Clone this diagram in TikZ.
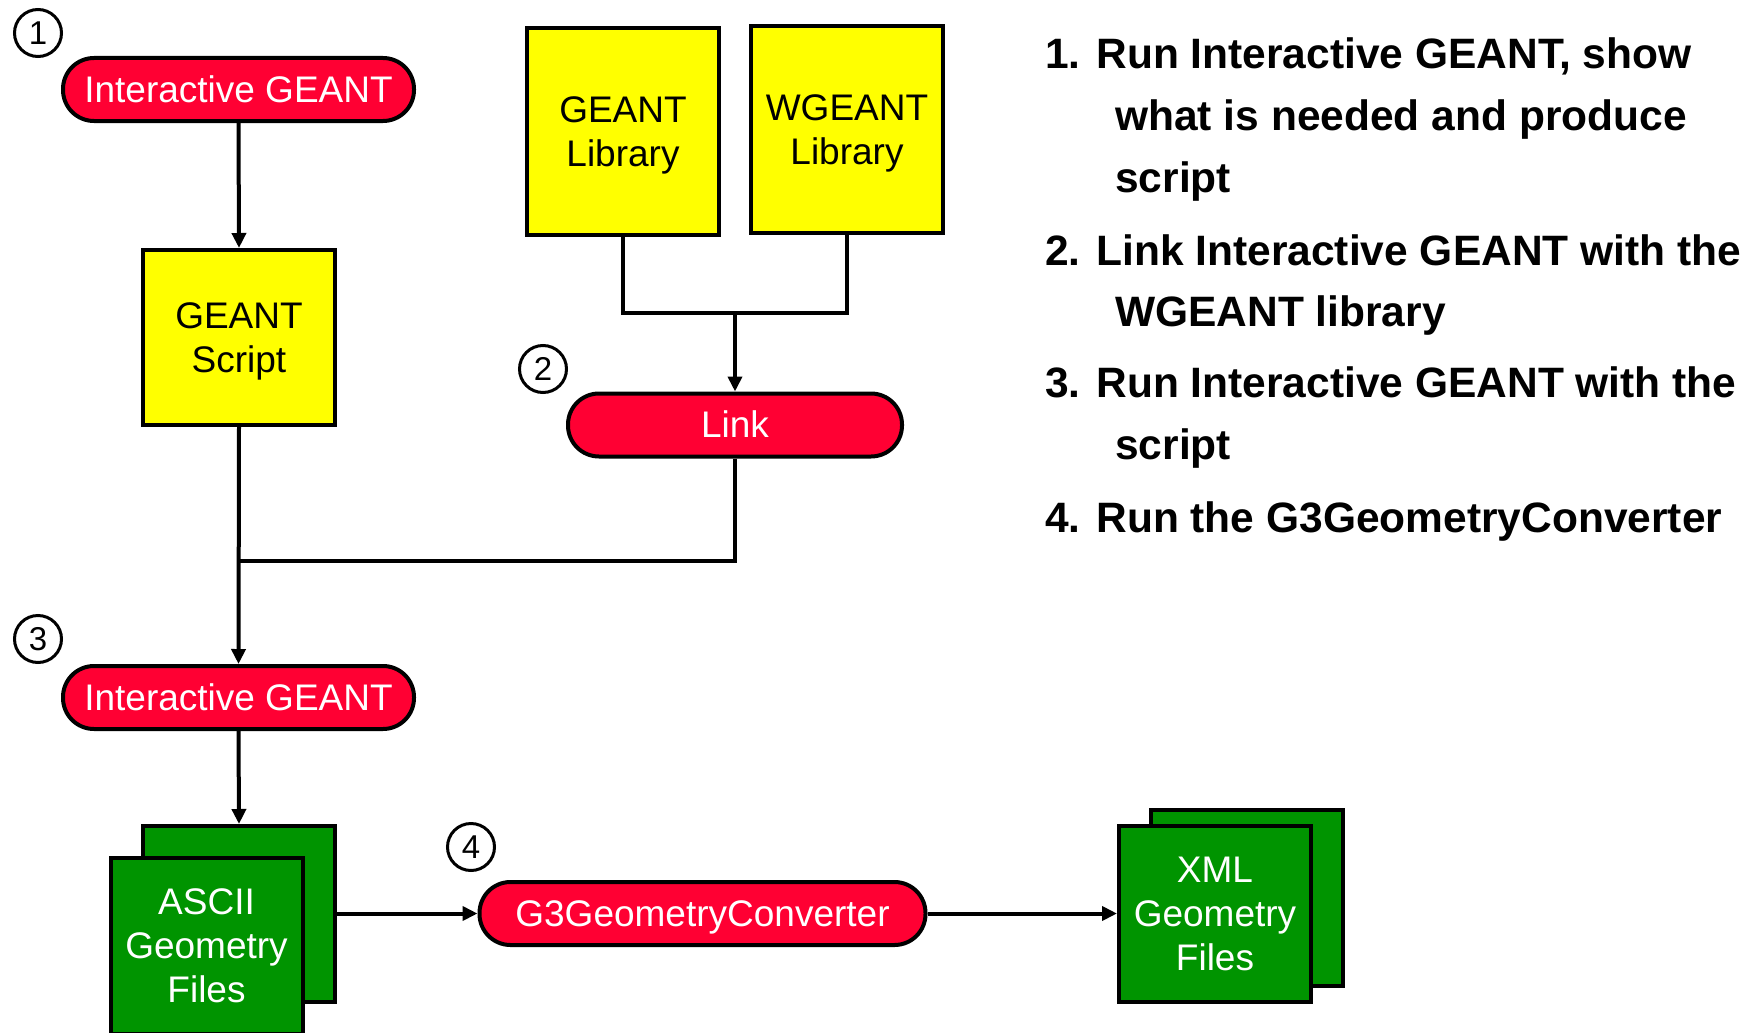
\documentclass[tikz,border=0pt]{standalone}
\usepackage{fontspec}
\setmainfont{Liberation Sans}
\usetikzlibrary{arrows.meta}
\definecolor{pillred}{RGB}{255,0,51}
\definecolor{boxyellow}{RGB}{255,255,0}
\definecolor{boxgreen}{RGB}{0,148,0}
\tikzset{
  pill/.style={draw=black, line width=4pt, fill=pillred, text=white, rounded corners=31pt,
    minimum height=63pt, inner sep=0pt, text height=25pt, text depth=0pt,
    font=\fontsize{37}{44}\selectfont},
  ybox/.style={draw=black, line width=4pt, fill=boxyellow, text=black, align=center,
    inner sep=0pt, text depth=0pt, minimum width=192pt, font=\fontsize{37}{44}\selectfont},
  gbox/.style={draw=black, line width=4pt, fill=boxgreen, text=white, align=center,
    inner sep=0pt, text depth=0pt, minimum width=192pt, minimum height=176pt,
    font=\fontsize{37}{44}\selectfont},
  numcirc/.style={draw=black, line width=3pt, circle, minimum size=47pt, inner sep=0pt,
    font=\fontsize{33}{33}\selectfont},
  arr/.style={line width=4pt, -{Triangle[length=15pt,width=14pt]}},
  conn/.style={line width=4pt},
  note/.style={anchor=base west, inner sep=0pt, font=\fontsize{42.5}{50}\selectfont\bfseries}
}
\begin{document}
\begin{tikzpicture}[x=1pt,y=-1pt]
\useasboundingbox[fill=white] (0,0) rectangle (1753,1033);

% step 1
\node[numcirc] (c1) at (38,33) {1};
\node[pill, minimum width=351pt] (ig1) at (238.5,89.5) {Interactive GEANT};
\node[ybox, minimum height=175pt] (gs) at (239,337.5) {GEANT\\Script};

% libraries
\node[ybox, minimum height=207pt] (gl) at (623,131.5) {GEANT\\Library};
\node[ybox, minimum height=207pt] (wl) at (847,129.5) {WGEANT\\Library};

% step 2
\node[numcirc] (c2) at (543,369) {2};
\node[pill, minimum width=334pt] (link) at (735,425) {Link};

% step 3
\node[numcirc] (c3) at (38,639) {3};
\node[pill, minimum width=351pt] (ig2) at (238.5,697.5) {Interactive GEANT};

\node[gbox] (ab) at (239,914) {};
\node[gbox] (af) at (206.5,946) {ASCII\\Geometry\\Files};

% step 4
\node[numcirc] (c4) at (471,847) {4};
\node[pill, minimum width=446pt] (g3) at (702.5,913.5) {G3GeometryConverter};

\node[gbox] (xb) at (1247,897.5) {};
\node[gbox] (xf) at (1215,913.5) {XML\\Geometry\\Files};

% connectors
\draw[arr] (ig1.south) -- (gs.north);
\coordinate (j1) at (735,313);
\draw[conn] (gl.south) |- (j1) -| (wl.south);
\draw[arr] (j1) -- (link.north);
\coordinate (j2) at (239,561);
\draw[conn] (link.south) |- (j2);
\draw[arr] (gs.south) -- (ig2.north);
\draw[arr] (ig2.south) -- (ab.north);
\draw[arr] (ab.east |- g3.west) -- (g3.west);
\draw[arr] (g3.east) -- (xf.west |- g3.east);

% notes
\node[note] (n1a) at (1045,68) {1. Run Interactive GEANT, show};
\node[note] (n1b) at (1115,130) {what is needed and produce};
\node[note] (n1c) at (1115,192) {script};
\node[note] (n2a) at (1045,265) {2. Link Interactive GEANT with the};
\node[note] (n2b) at (1115,326) {WGEANT library};
\node[note] (n3a) at (1045,397) {3. Run Interactive GEANT with the};
\node[note] (n3b) at (1115,459) {script};
\node[note] (n4a) at (1045,532) {4. Run the G3GeometryConverter};
\end{tikzpicture}
\end{document}
